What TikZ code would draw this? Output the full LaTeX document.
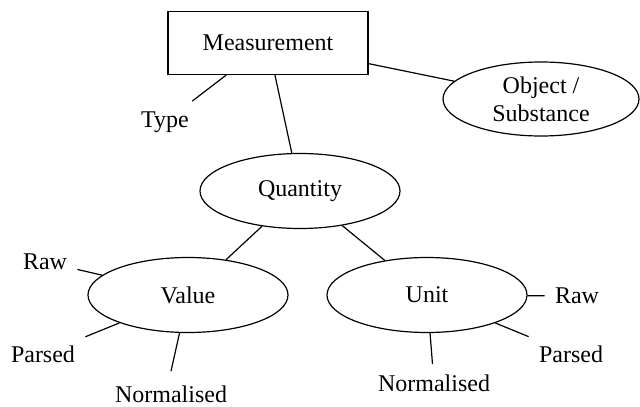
\documentclass[tikz,border=0pt]{standalone}
\usepackage{fontspec}
\setmainfont{Liberation Serif}
\usetikzlibrary{shapes.geometric}

\begin{document}
\begin{tikzpicture}[x=0.5pt,y=-0.5pt,
  every node/.style={font=\fontsize{12}{14}\selectfont},
  entity/.style={draw, line width=0.6pt, minimum width=100pt, minimum height=31.5pt},
  attr/.style={draw, ellipse, line width=0.6pt, minimum width=100pt,
    minimum height=37.5pt, inner sep=0pt},
  lbl/.style={inner sep=5pt},
  link/.style={line width=0.6pt}]
  \useasboundingbox (0,0) rectangle (640,406);
  % entities
  \node[entity](meas) at (268,43) {Measurement};
  \node[attr, minimum width=98pt, minimum height=37pt, align=center](obj) at (541,99) {Object /\\Substance};
  \node[attr](qty) at (300,191) {Quantity};
  \node[attr](val) at (188,295) {Value};
  \node[attr](unit) at (427,295) {Unit};
  % plain labels
  \node[lbl](type) at (165,122) {Type};
  \node[lbl](valraw) at (45,262) {Raw};
  \node[lbl](valparsed) at (43,354) {Parsed};
  \node[lbl](valnorm) at (171,394) {Normalised};
  \node[lbl](unitraw) at (577,296) {Raw};
  \node[lbl](unitparsed) at (571,354) {Parsed};
  \node[lbl](unitnorm) at (434,383) {Normalised};
  % links
  \draw[link](meas)--(obj);
  \draw[link](meas)--(qty);
  \draw[link](meas)--(type);
  \draw[link](qty)--(val);
  \draw[link](qty)--(unit);
  \draw[link](val)--(valraw);
  \draw[link](val)--(valparsed);
  \draw[link](val)--([yshift=2pt]valnorm.north);
  \draw[link](unit)--(unitraw);
  \draw[link](unit)--(unitparsed);
  \draw[link](unit)--(unitnorm);
\end{tikzpicture}
\end{document}
